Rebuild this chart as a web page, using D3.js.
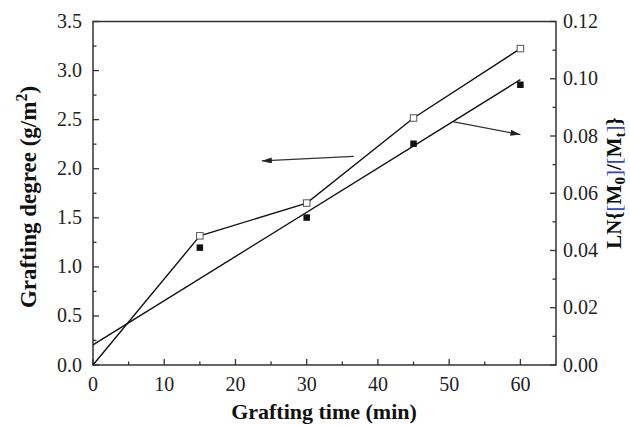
<!DOCTYPE html>
<html><head><meta charset="utf-8">
<script src="https://cdn.jsdelivr.net/npm/d3@7/dist/d3.min.js"></script>
<style>body{margin:0;background:#fff}svg{display:block}</style>
</head><body>
<script>
const times = [15, 30, 45, 60];
const graftingDegree = [1.316, 1.650, 2.517, 3.224];   // open squares, left axis
const lnRatio = [0.0410, 0.0515, 0.0773, 0.0979];       // filled squares, right axis
const fitX = [0, 60];
const fitLn = [0.0070, 0.0997];
const xTicks = [0, 10, 20, 30, 40, 50, 60];
const yLeftTicks = [0, 0.5, 1, 1.5, 2, 2.5, 3, 3.5];
const yRightTicks = [0, 0.02, 0.04, 0.06, 0.08, 0.10, 0.12];

const W = 630, H = 425;
const L = 93, R = 556, T = 21.5, B = 365;
const FONT = "Liberation Serif, Times New Roman, serif";
const svg = d3.select("body").append("svg").attr("width", W).attr("height", H)
  .attr("font-family", FONT);

const x = d3.scaleLinear().domain([0, 65]).range([L, R]);
const yL = d3.scaleLinear().domain([0, 3.5]).range([B, T]);
const yR = d3.scaleLinear().domain([0, 0.12]).range([B, T]);

const axisColor = "#333";
svg.append("rect").attr("x", L).attr("y", T).attr("width", R - L).attr("height", B - T)
  .attr("fill", "none").attr("stroke", axisColor).attr("stroke-width", 1.5);

const g = svg.append("g");
d3.range(0, 65, 5).forEach(v => {
  const major = v % 10 === 0;
  g.append("line").attr("x1", x(v)).attr("x2", x(v)).attr("y1", B).attr("y2", B - (major ? 6 : 3.5))
    .attr("stroke", axisColor).attr("stroke-width", 1.3);
});
xTicks.forEach(v => {
  g.append("text").attr("x", x(v)).attr("y", 391).attr("text-anchor", "middle")
    .attr("font-size", 20).attr("fill", "#222").text(v);
});
d3.range(0, 3.5001, 0.25).forEach(v => {
  const major = Math.abs((v / 0.5) - Math.round(v / 0.5)) < 1e-6;
  g.append("line").attr("x1", L).attr("x2", L + (major ? 6 : 3.5)).attr("y1", yL(v)).attr("y2", yL(v))
    .attr("stroke", axisColor).attr("stroke-width", 1.3);
});
yLeftTicks.forEach(v => {
  g.append("text").attr("x", 82).attr("y", yL(v) + 6.5).attr("text-anchor", "end")
    .attr("font-size", 20).attr("fill", "#222").text(v.toFixed(1));
});
d3.range(0, 12.001, 1).forEach(i => {
  const v = i / 100;
  const major = i % 2 === 0;
  g.append("line").attr("x1", R).attr("x2", R - (major ? 6 : 3.5)).attr("y1", yR(v)).attr("y2", yR(v))
    .attr("stroke", axisColor).attr("stroke-width", 1.3);
});
yRightTicks.forEach(v => {
  g.append("text").attr("x", 563).attr("y", yR(v) + 6.5).attr("text-anchor", "start")
    .attr("font-size", 20).attr("fill", "#222").text(v.toFixed(2));
});

// titles
svg.append("text").attr("x", 324).attr("y", 419).attr("text-anchor", "middle")
  .attr("font-size", 22).attr("font-weight", "bold").attr("fill", "#111").text("Grafting time (min)");
const lt = svg.append("text").attr("transform", "translate(36,197) rotate(-90)").attr("text-anchor", "middle")
  .attr("font-size", 23).attr("font-weight", "bold").attr("fill", "#111");
lt.append("tspan").text("Grafting degree (g/m");
lt.append("tspan").attr("dy", -9).attr("font-size", 16).text("2");
lt.append("tspan").attr("dy", 9).text(")");
const rt = svg.append("text").attr("transform", "translate(621,183) rotate(-90)").attr("text-anchor", "middle")
  .attr("font-size", 21).attr("font-weight", "bold").attr("fill", "#111");
const blue = "#3344cc";
rt.append("tspan").text("LN{");
rt.append("tspan").attr("fill", blue).attr("font-weight", "normal").text("[");
rt.append("tspan").text("M");
rt.append("tspan").attr("dy", 4).attr("font-size", 15).text("0");
rt.append("tspan").attr("dy", -4).attr("fill", blue).attr("font-weight", "normal").text("]");
rt.append("tspan").text("/");
rt.append("tspan").attr("fill", blue).attr("font-weight", "normal").text("[");
rt.append("tspan").text("M");
rt.append("tspan").attr("dy", 4).attr("font-size", 15).text("t");
rt.append("tspan").attr("dy", -4).attr("fill", blue).attr("font-weight", "normal").text("]");
rt.append("tspan").text("}");

// data lines
const openPts = [[0, 0]].concat(times.map((t, i) => [t, graftingDegree[i]]));
svg.append("path").datum(openPts)
  .attr("d", d3.line().x(d => x(d[0])).y(d => yL(d[1])))
  .attr("fill", "none").attr("stroke", "#111").attr("stroke-width", 1.4);
svg.append("path").datum(fitX.map((t, i) => [t, fitLn[i]]))
  .attr("d", d3.line().x(d => x(d[0])).y(d => yR(d[1])))
  .attr("fill", "none").attr("stroke", "#111").attr("stroke-width", 1.4);

// markers
const s = 6.5;
svg.selectAll(".open").data(times).enter().append("rect")
  .attr("x", (d) => x(d) - s / 2).attr("y", (d, i) => yL(graftingDegree[i]) - s / 2)
  .attr("width", s).attr("height", s).attr("fill", "#fff").attr("stroke", "#555").attr("stroke-width", 1);
svg.selectAll(".filled").data(times).enter().append("rect")
  .attr("x", (d) => x(d) - s / 2).attr("y", (d, i) => yR(lnRatio[i]) - s / 2)
  .attr("width", s).attr("height", s).attr("fill", "#111");

// arrows
const defs = svg.append("defs");
defs.append("marker").attr("id", "ah").attr("viewBox", "0 0 10 6").attr("refX", 10).attr("refY", 3)
  .attr("markerWidth", 10).attr("markerHeight", 6).attr("markerUnits", "userSpaceOnUse").attr("orient", "auto")
  .append("path").attr("d", "M0,0 L10,3 L0,6 Z").attr("fill", "#222");
svg.append("line").attr("x1", x(36.6)).attr("y1", yL(2.125)).attr("x2", x(23.7)).attr("y2", yL(2.08))
  .attr("stroke", "#333").attr("stroke-width", 1.2).attr("marker-end", "url(#ah)");
svg.append("line").attr("x1", x(50.5)).attr("y1", yR(0.0850)).attr("x2", x(60)).attr("y2", yR(0.0805))
  .attr("stroke", "#333").attr("stroke-width", 1.2).attr("marker-end", "url(#ah)");
</script>
</body></html>
